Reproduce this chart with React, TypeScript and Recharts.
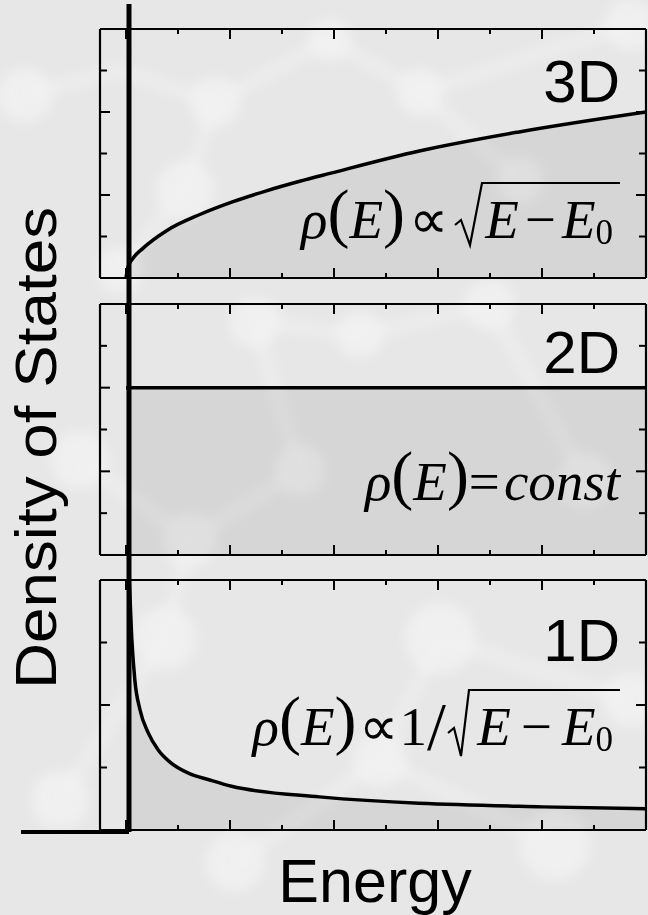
import React from 'react';
import { ComposedChart, Area, XAxis, YAxis } from 'recharts';

const W = 648;
const H = 915;

// Energy axis (E0 at 0), shared by all panels
const energyDomain: [number, number] = [-0.5, 10];
const energyTicks = [0, 1, 2, 3, 4, 5, 6, 7, 8, 9, 10];

// 3D: rho(E) ~ sqrt(E - E0)
const energy3D = [0, 0.04, 0.12, 0.33, 0.78, 1.42, 2.06, 2.7, 3.34, 3.92, 5.64, 7.56, 10];
const dos3D = [0, 0.27, 0.45, 0.72, 1.14, 1.53, 1.84, 2.1, 2.33, 2.52, 3.06, 3.52, 4.0];

// 2D: rho(E) = const
const energy2D = [0, 10];
const dos2D = [4, 4];

// 1D: rho(E) ~ 1/sqrt(E - E0)
const energy1D = [0.0625, 0.11, 0.17, 0.27, 0.43, 0.62, 0.84, 1.2, 1.61, 2.03, 3.72, 8.0, 10];
const dos1D = [4.0, 3.08, 2.4, 1.92, 1.55, 1.28, 1.09, 0.91, 0.8, 0.7, 0.53, 0.37, 0.34];

const dosTicks3D = [0, 1, 2, 3, 4, 5, 6];
const dosTicks2D = [0, 1, 2, 3, 4, 5, 6];
const dosTicks1D = [0, 1, 2, 3, 4];

const panelLabels = ['3D', '2D', '1D'];

// left end of the baseline stub drawn under the 1D panel, in energy units
const baselineStartE = -2.02;

const PLOT_LEFT = 100;
const PLOT_RIGHT = 646;

const toRows = (e: number[], d: number[]) => e.map((v, i) => ({ e: v, d: d[i] }));

const frameLine = { stroke: '#000', strokeWidth: 2.2 };

const tickLen = (v: number, major: number, minor: number) => (Math.round(v) % 2 === 0 ? major : minor);

const BottomTick = (p: any) => {
  const L = tickLen(p.payload.value, 10, 5);
  return <line x1={p.x} y1={p.y} x2={p.x} y2={p.y - L} stroke="#000" strokeWidth={2} />;
};
const TopTick = (p: any) => {
  const L = tickLen(p.payload.value, 10, 5);
  return <line x1={p.x} y1={p.y} x2={p.x} y2={p.y + L} stroke="#000" strokeWidth={2} />;
};
const LeftTick = (p: any) => {
  const L = tickLen(p.payload.value, 10, 7);
  return <line x1={p.x} y1={p.y} x2={p.x + L} y2={p.y} stroke="#000" strokeWidth={2} />;
};
const RightTick = (p: any) => {
  const L = tickLen(p.payload.value, 10, 7);
  return <line x1={p.x} y1={p.y} x2={p.x - L} y2={p.y} stroke="#000" strokeWidth={2} />;
};

type PanelProps = {
  rows: { e: number; d: number }[];
  yTicks: number[];
  top: number;
  bottom: number;
  curve: 'monotone' | 'linear';
};

// One framed panel: the four mirrored axes draw the box and its inward ticks
function Panel({ rows, yTicks, top, bottom, curve }: PanelProps) {
  const yMax = yTicks[yTicks.length - 1];
  const common = {
    type: 'number' as const,
    tickSize: 0,
    tickMargin: 0,
    tickLine: false,
    axisLine: frameLine,
    allowDataOverflow: true,
    interval: 0 as const,
  };
  return (
    <div style={{ position: 'absolute', left: 0, top: 0 }}>
      <ComposedChart
        width={W}
        height={H}
        data={rows}
        margin={{ top, bottom: H - bottom, left: PLOT_LEFT, right: W - PLOT_RIGHT }}
      >
        <XAxis xAxisId="b" dataKey="e" domain={energyDomain} ticks={energyTicks} orientation="bottom" mirror height={1} tick={BottomTick} {...common} />
        <XAxis xAxisId="t" dataKey="e" domain={energyDomain} ticks={energyTicks} orientation="top" mirror height={1} tick={TopTick} {...common} />
        <YAxis yAxisId="l" domain={[0, yMax]} ticks={yTicks} orientation="left" mirror width={1} tick={LeftTick} {...common} />
        <YAxis yAxisId="r" domain={[0, yMax]} ticks={yTicks} orientation="right" mirror width={1} tick={RightTick} {...common} />
        <Area
          xAxisId="b"
          yAxisId="l"
          dataKey="d"
          type={curve}
          stroke="#000"
          strokeWidth={3.5}
          fill="#000"
          fillOpacity={0.07}
          dot={false}
          activeDot={false}
          isAnimationActive={false}
        />
      </ComposedChart>
    </div>
  );
}

// The E0 line and the energy baseline stub: an L-shaped pair of axes
function Guides() {
  return (
    <div style={{ position: 'absolute', left: 0, top: 0 }}>
      <ComposedChart
        width={W}
        height={H}
        data={toRows([baselineStartE, 0], [0, 1])}
        margin={{ top: 4, bottom: H - 832, left: 21, right: W - 129 }}
      >
        <XAxis
          xAxisId="e"
          dataKey="e"
          type="number"
          domain={[baselineStartE, 0]}
          ticks={[0]}
          orientation="bottom"
          mirror
          height={1}
          tick={false}
          tickLine={false}
          axisLine={{ stroke: '#000', strokeWidth: 4 }}
        />
        <YAxis
          yAxisId="v"
          type="number"
          domain={[0, 1]}
          ticks={[0]}
          orientation="right"
          mirror
          width={1}
          tick={false}
          tickLine={false}
          axisLine={{ stroke: '#000', strokeWidth: 5 }}
        />
      </ComposedChart>
    </div>
  );
}

// Soft ball-and-stick backdrop
const atoms = [
  [25, 95, 28], [215, 102, 26], [185, 190, 30], [420, 92, 24], [330, 40, 22], [630, 25, 26],
  [255, 322, 26], [190, 540, 28], [80, 460, 30], [490, 305, 26], [360, 335, 24], [585, 480, 28],
  [165, 638, 32], [440, 638, 36], [555, 845, 36], [235, 862, 30], [630, 700, 28], [60, 800, 30],
  [300, 470, 26], [520, 180, 24], [120, 270, 24], [380, 760, 28],
];
const bonds = [
  [25, 95, 120, 70], [120, 70, 215, 102], [215, 102, 185, 190], [215, 102, 330, 40], [330, 40, 420, 92],
  [420, 92, 520, 180], [420, 92, 630, 25], [185, 190, 120, 270], [255, 322, 360, 335], [360, 335, 490, 305],
  [255, 322, 300, 470], [300, 470, 190, 540], [190, 540, 80, 460], [490, 305, 585, 480], [165, 638, 190, 540],
  [440, 638, 380, 760], [440, 638, 630, 700], [380, 760, 555, 845], [380, 760, 235, 862], [165, 638, 60, 800],
];

function Backdrop() {
  return (
    <svg width={W} height={H} style={{ position: 'absolute', left: 0, top: 0 }}>
      <defs>
        <filter id="soft" x="-20%" y="-20%" width="140%" height="140%">
          <feGaussianBlur stdDeviation="6" />
        </filter>
      </defs>
      <rect x={0} y={0} width={W} height={H} fill="#e7e7e7" />
      <g filter="url(#soft)">
        {bonds.map((b, i) => (
          <line key={i} x1={b[0]} y1={b[1]} x2={b[2]} y2={b[3]} stroke="#f3f3f3" strokeWidth={14} opacity={0.5} />
        ))}
        {atoms.map((a, i) => (
          <circle key={i} cx={a[0]} cy={a[1]} r={a[2]} fill="#f5f5f5" opacity={0.65} />
        ))}
      </g>
    </svg>
  );
}

const SANS = 'Liberation Sans, Arial, sans-serif';
const SERIF = 'Liberation Serif, Times New Roman, serif';

function Annotations() {
  const f = 55;
  const pf = 66;
  return (
    <svg width={W} height={H} style={{ position: 'absolute', left: 0, top: 0 }}>
      <g fontFamily={SANS} fill="#000">
        <text x={620} y={102} fontSize={60} textAnchor="end">{panelLabels[0]}</text>
        <text x={620} y={373} fontSize={60} textAnchor="end">{panelLabels[1]}</text>
        <text x={620} y={661} fontSize={60} textAnchor="end">{panelLabels[2]}</text>
        <text x={375} y={902} fontSize={61} textAnchor="middle">Energy</text>
        <text transform="translate(56 448) rotate(-90) scale(1.1 1)" fontSize={58} textAnchor="middle">Density of States</text>
      </g>
      <g fontFamily={SERIF} fill="#000" fontSize={f}>
        {/* 3D */}
        <text x={448} y={238} textAnchor="end">
          <tspan fontStyle="italic">ρ</tspan>
          <tspan fontSize={pf} dy={-3}>(</tspan>
          <tspan fontStyle="italic" dy={3}>E</tspan>
          <tspan fontSize={pf} dy={-3}>)</tspan>
          <tspan dx={4} dy={3}>∝</tspan>
        </text>
        <polyline points="455,225 461,220 470,245 482,183 620,183" fill="none" stroke="#000" strokeWidth={2.2} strokeLinejoin="miter" />
        <text x={613} y={238} textAnchor="end">
          <tspan fontStyle="italic">E</tspan>
          <tspan dx={6}>−</tspan>
          <tspan dx={6} fontStyle="italic">E</tspan>
          <tspan fontSize={35} dy={6}>0</tspan>
        </text>

        {/* 2D */}
        <text x={620} y={500} textAnchor="end">
          <tspan fontStyle="italic">ρ</tspan>
          <tspan fontSize={pf} dy={-3}>(</tspan>
          <tspan fontStyle="italic" dy={3}>E</tspan>
          <tspan fontSize={pf} dy={-3}>)</tspan>
          <tspan dy={3}>=</tspan>
          <tspan dx={4} fontStyle="italic">const</tspan>
        </text>

        {/* 1D */}
        <text x={446} y={745} textAnchor="end">
          <tspan fontStyle="italic">ρ</tspan>
          <tspan fontSize={pf} dy={-3}>(</tspan>
          <tspan fontStyle="italic" dy={3}>E</tspan>
          <tspan fontSize={pf} dy={-3}>)</tspan>
          <tspan dx={2} dy={3}>∝</tspan>
          <tspan dx={2}>1</tspan>
          <tspan fontSize={68} dy={4}>/</tspan>
        </text>
        <polyline points="448,733 454,728 461,756 469,690 620,690" fill="none" stroke="#000" strokeWidth={2.2} strokeLinejoin="miter" />
        <text x={613} y={745} textAnchor="end">
          <tspan fontStyle="italic">E</tspan>
          <tspan dx={10}>−</tspan>
          <tspan dx={10} fontStyle="italic">E</tspan>
          <tspan fontSize={35} dy={6}>0</tspan>
        </text>
      </g>
    </svg>
  );
}

export default function App() {
  return (
    <div style={{ position: 'absolute', left: 0, top: 0, width: W, height: H, overflow: 'hidden' }}>
      <Backdrop />
      <Panel rows={toRows(energy3D, dos3D)} yTicks={dosTicks3D} top={29} bottom={278} curve="monotone" />
      <Panel rows={toRows(energy2D, dos2D)} yTicks={dosTicks2D} top={304} bottom={555} curve="linear" />
      <Panel rows={toRows(energy1D, dos1D)} yTicks={dosTicks1D} top={580} bottom={830} curve="monotone" />
      <Guides />
      <Annotations />
    </div>
  );
}
